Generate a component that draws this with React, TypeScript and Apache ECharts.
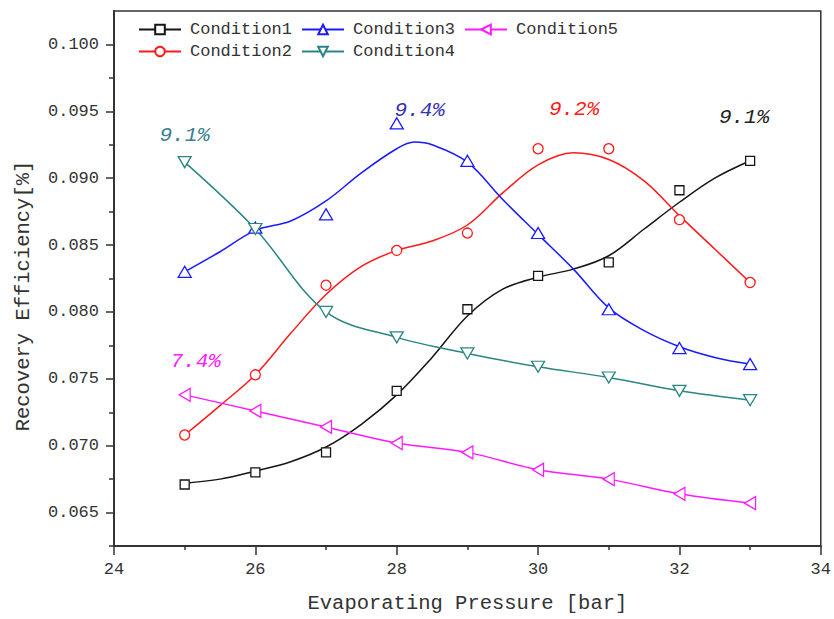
import React, { useEffect, useRef } from "react";
import * as echarts from "echarts";

// Measured points (evaporating pressure in bar)
const pressure = [25, 26, 27, 28, 29, 30, 31, 32, 33];
const condition1 = [0.0671, 0.068, 0.0695, 0.0741, 0.0802, 0.0827, 0.0837, 0.0891, 0.0913];
const condition2 = [0.0708, 0.0753, 0.082, 0.0846, 0.0859, 0.0922, 0.0922, 0.0869, 0.0822];
const condition3 = [0.083, 0.0863, 0.0873, 0.0941, 0.0913, 0.0859, 0.0802, 0.0773, 0.0761];
const condition4 = [0.0912, 0.0862, 0.08, 0.0781, 0.0769, 0.0759, 0.0751, 0.0741, 0.0734];
const condition5 = [0.0738, 0.0726, 0.0714, 0.0702, 0.0695, 0.0682, 0.0675, 0.0664, 0.0657];

// Fitted trend curves, sampled every 0.5 bar (plus the crest of Condition3)
const fitPressure = [25, 25.5, 26, 26.5, 27, 27.5, 28, 28.5, 29, 29.5, 30, 30.5, 31, 31.5, 32, 32.5, 33];
const fitPressure3 = [25, 25.5, 26, 26.5, 27, 27.5, 28, 28.25, 28.5, 29, 29.5, 30, 30.5, 31, 31.5, 32, 32.5, 33];
const condition1Fit = [0.0672, 0.0675, 0.0681, 0.0688, 0.0699, 0.0716, 0.0738, 0.0766, 0.0797, 0.0817, 0.0826, 0.0832, 0.0842, 0.0862, 0.0882, 0.09, 0.0913];
const condition2Fit = [0.0708, 0.073, 0.0753, 0.0784, 0.0813, 0.0834, 0.0846, 0.0853, 0.0865, 0.0889, 0.091, 0.0919, 0.0914, 0.0898, 0.0872, 0.0847, 0.0822];
const condition3Fit = [0.083, 0.0845, 0.0861, 0.0868, 0.0883, 0.0904, 0.0922, 0.0927, 0.0925, 0.0912, 0.0884, 0.0858, 0.0832, 0.0803, 0.0786, 0.0774, 0.0766, 0.0761];

const xTicks = [24, 26, 28, 30, 32, 34];
const yTicks = [0.065, 0.07, 0.075, 0.08, 0.085, 0.09, 0.095, 0.1];
const yMinorTicks = [0.0625, 0.0675, 0.0725, 0.0775, 0.0825, 0.0875, 0.0925, 0.0975];

const MONO = "'Liberation Mono', 'DejaVu Sans Mono', monospace";
const AXIS = "#333";

type Cond = {
  name: string;
  values: number[];
  fit: number[] | null;
  fitX: number[];
  color: string;
  labelColor: string;
  symbol: string;
  rotate: number;
  size: number | number[];
  labelOffset: number[];
};

const conditions: Cond[] = [
  { name: "Condition1", values: condition1, fit: condition1Fit, fitX: fitPressure, color: "#151515", labelColor: "#222222", symbol: "rect", rotate: 0, size: 9, labelOffset: [-6, -43] },
  { name: "Condition2", values: condition2, fit: condition2Fit, fitX: fitPressure, color: "#ff1a1a", labelColor: "#ff1a1a", symbol: "circle", rotate: 0, size: 10, labelOffset: [36, -39] },
  { name: "Condition3", values: condition3, fit: condition3Fit, fitX: fitPressure3, color: "#1a1aff", labelColor: "#3535b0", symbol: "triangle", rotate: 0, size: [13, 11], labelOffset: [23, -13] },
  { name: "Condition4", values: condition4, fit: null, fitX: pressure, color: "#2a8585", labelColor: "#3a7f8f", symbol: "triangle", rotate: 180, size: [13, 11], labelOffset: [0, -27] },
  { name: "Condition5", values: condition5, fit: null, fitX: pressure, color: "#ff1aff", labelColor: "#ff1aff", symbol: "triangle", rotate: 90, size: [13, 11], labelOffset: [11, -33] },
];

function buildSeries() {
  const series: any[] = [];
  conditions.forEach((c) => {
    const curve = c.fit ?? c.values;
    series.push({
      type: "line",
      name: c.name,
      data: c.fitX.map((x, i) => [x, curve[i]]),
      smooth: 0.35,
      showSymbol: false,
      symbol: c.symbol,
      symbolRotate: c.rotate,
      symbolSize: c.size,
      lineStyle: { color: c.color, width: 1.5 },
      itemStyle: { color: "#ffffff", borderColor: c.color, borderWidth: 1.3 },
      z: 2,
    });
  });
  conditions.forEach((c) => {
    const peak = Math.max(...c.values);
    const idx = c.values.indexOf(peak);
    series.push({
      type: "scatter",
      name: c.name,
      data: pressure.map((x, i) => [x, c.values[i]]),
      symbol: c.symbol,
      symbolRotate: c.rotate,
      symbolSize: c.size,
      itemStyle: { color: "#ffffff", borderColor: c.color, borderWidth: 1.3, opacity: 1 },
      z: 3,
      markPoint: {
        symbol: "circle",
        symbolSize: 0,
        silent: true,
        data: [{ coord: [pressure[idx], peak], value: peak }],
        label: {
          show: true,
          position: "inside",
          offset: c.labelOffset,
          formatter: (p: any) => (p.value * 100).toFixed(1) + "%",
          color: c.labelColor,
          fontStyle: "italic",
          fontFamily: MONO,
          fontSize: 21,
        },
      },
    });
  });
  return series;
}

export default function App() {
  const ref = useRef<HTMLDivElement>(null);

  useEffect(() => {
    if (!ref.current) return;
    const chart = echarts.init(ref.current, null, { renderer: "svg" });
    const legendText = { fontFamily: MONO, fontSize: 17, color: "#333", padding: [0, 0, 0, 4] };
    chart.setOption({
      animation: false,
      backgroundColor: "#ffffff",
      grid: {
        left: 114,
        right: 11,
        top: 11,
        bottom: 71,
        show: true,
        borderColor: AXIS,
        borderWidth: 1.5,
        backgroundColor: "transparent",
      },
      legend: [
        {
          data: ["Condition1", "Condition3", "Condition5"],
          left: 138,
          top: 21,
          padding: 0,
          itemWidth: 42,
          itemHeight: 12,
          itemGap: 9,
          textStyle: legendText,
          selectedMode: false,
        },
        {
          data: ["Condition2", "Condition4"],
          left: 138,
          top: 43,
          padding: 0,
          itemWidth: 42,
          itemHeight: 12,
          itemGap: 9,
          textStyle: legendText,
          selectedMode: false,
        },
      ],
      xAxis: {
        type: "value",
        min: xTicks[0],
        max: xTicks[xTicks.length - 1],
        interval: 2,
        name: "Evaporating Pressure [bar]",
        nameLocation: "middle",
        nameGap: 47,
        nameTextStyle: { fontFamily: MONO, fontSize: 20.5, color: "#333" },
        axisLine: { show: true, onZero: false, lineStyle: { color: AXIS, width: 2 } },
        axisTick: { show: true, length: 9, lineStyle: { color: AXIS, width: 1.5 } },
        minorTick: { show: true, splitNumber: 2, length: 4, lineStyle: { color: AXIS, width: 1.5 } },
        axisLabel: { margin: 15, fontFamily: MONO, fontSize: 17, color: "#333" },
        splitLine: { show: false },
      },
      yAxis: [
        {
          type: "value",
          position: "left",
          min: 0.0625,
          max: 0.1025,
          axisLine: { show: true, onZero: false, lineStyle: { color: AXIS, width: 2 } },
          axisTick: { show: true, length: 8, customValues: yTicks, lineStyle: { color: AXIS, width: 1.5 } },
          axisLabel: {
            margin: 15,
            customValues: yTicks,
            formatter: (v: number) => v.toFixed(3),
            fontFamily: MONO,
            fontSize: 17,
            color: "#333",
          },
          splitLine: { show: false },
        },
        {
          type: "value",
          position: "left",
          min: 0.0625,
          max: 0.1025,
          axisLine: { show: false },
          axisTick: { show: true, length: 5, customValues: yMinorTicks, lineStyle: { color: AXIS, width: 1.5 } },
          axisLabel: { show: false },
          splitLine: { show: false },
        },
      ],
      graphic: [
        {
          type: "text",
          x: 23,
          y: 296,
          rotation: Math.PI / 2,
          style: {
            text: "Recovery Efficiency[%]",
            fill: "#333",
            font: `20.5px ${MONO}`,
            align: "center",
            verticalAlign: "middle",
            textAlign: "center",
            textVerticalAlign: "middle",
          },
        },
      ],
      series: buildSeries(),
    });
    return () => chart.dispose();
  }, []);

  return <div ref={ref} style={{ width: 834, height: 619, position: "absolute", left: 0, top: 0 }} />;
}
